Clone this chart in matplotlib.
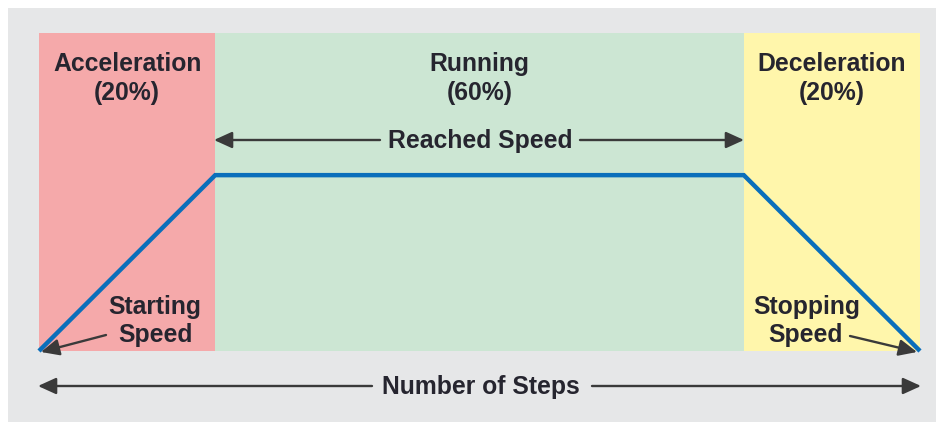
import matplotlib
matplotlib.use("Agg")
import matplotlib.pyplot as plt
from matplotlib.patches import Rectangle

# ---- data ----
phase_names = ["Acceleration", "Running", "Deceleration"]
phase_pct = [20, 60, 20]
phase_colors = ["#f5a9aa", "#cce6d3", "#fff6ab"]
profile_steps = [0, 20, 80, 100]
profile_speed = [0, 0.553, 0.553, 0]

W, H = 937, 422
fig = plt.figure(figsize=(W / 100, H / 100), dpi=100, facecolor="white")

# gray backdrop
bg = fig.add_axes([0, 0, 1, 1], zorder=-10)
bg.set_xlim(0, W)
bg.set_ylim(H, 0)
bg.axis("off")
bg.add_patch(Rectangle((8, 8), W - 8, H - 8, facecolor="#e6e7e8", edgecolor="none"))

left, right, top, bottom = 39, 920, 33, 351
ax = fig.add_axes([left / W, (H - bottom) / H, (right - left) / W, (bottom - top) / H], zorder=1)
ax.set_xlim(0, 100)
ax.set_ylim(0, 1)
ax.axis("off")

def px2data(px, py):
    return (px - left) / (right - left) * 100, (bottom - py) / (bottom - top)

TXT = "#26252f"
FONT = dict(family="Liberation Sans", weight="bold", fontsize=17.8, color=TXT)

start = 0
for name, pct, col in zip(phase_names, phase_pct, phase_colors):
    ax.axvspan(start, start + pct, ymin=0, ymax=1, facecolor=col, edgecolor="none", zorder=1)
    cx = start + pct / 2
    ax.text(cx, px2data(0, 64)[1], name, ha="center", va="center", zorder=5, **FONT)
    ax.text(cx, px2data(0, 93)[1], f"({pct}%)", ha="center", va="center", zorder=5, **FONT)
    start += pct

ax.plot(profile_steps, profile_speed, color="#0a6fbb", lw=3.2, solid_joinstyle="miter",
        solid_capstyle="butt", zorder=4, clip_on=False)

arrow_kw = dict(arrowstyle="-|>,head_length=1.1,head_width=0.5", color="#3a3a3a", lw=1.7,
                shrinkA=0, shrinkB=0)

def arrow(p_from, p_to):
    ax.annotate("", xy=px2data(*p_to), xytext=px2data(*p_from), xycoords="data",
                textcoords="data", arrowprops=arrow_kw, annotation_clip=False, zorder=6)

# Reached Speed
ax.text(*px2data(480, 141), "Reached Speed", ha="center", va="center", zorder=5, **FONT)
arrow((380, 140), (214, 140))
arrow((580, 140), (744, 140))

# Number of Steps
ax.text(*px2data(481, 387), "Number of Steps", ha="center", va="center", zorder=5,
        clip_on=False, **FONT)
arrow((372, 386), (38, 386))
arrow((592, 386), (921, 386))

# Starting / Stopping speed
ax.text(*px2data(155, 307), "Starting", ha="center", va="center", zorder=5, **FONT)
ax.text(*px2data(155, 335), "Speed", ha="center", va="center", zorder=5, **FONT)
arrow((106, 335), (41, 352))
ax.text(*px2data(807, 307), "Stopping", ha="center", va="center", zorder=5, **FONT)
ax.text(*px2data(805, 335), "Speed", ha="center", va="center", zorder=5, **FONT)
arrow((850, 336), (917, 352))

fig.savefig("out.png", dpi=100, facecolor="white")
